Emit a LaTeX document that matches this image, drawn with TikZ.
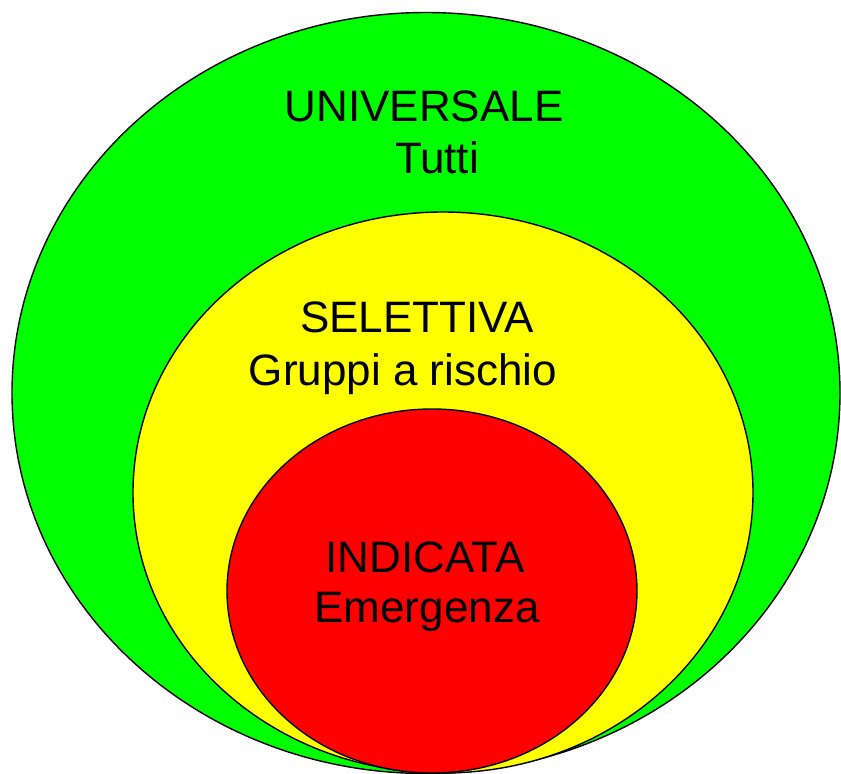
\documentclass[tikz,border=0pt]{standalone}
\usepackage{fontspec}
\setmainfont{Liberation Sans}
\usetikzlibrary{shapes.geometric}
\definecolor{cgreen}{HTML}{00FF00}
\definecolor{cyellow}{HTML}{FFFF00}
\definecolor{cred}{HTML}{FF0000}
\begin{document}
\begin{tikzpicture}[x=1pt,y=-1pt,
  zone/.style={ellipse, draw=black, line width=1.4pt, inner sep=0pt},
  lbl/.style={anchor=base, inner sep=0pt, font=\fontsize{44}{50}\selectfont, text=black}]
\useasboundingbox (0,0) rectangle (841,774);
\node[zone, fill=cgreen, minimum width=828pt, minimum height=761pt] (uni) at (426,393) {};
\node[zone, fill=cyellow, minimum width=620pt, minimum height=561pt] (sel) at (443,492.5) {};
\node[zone, fill=cred, minimum width=410pt, minimum height=364pt] (ind) at (432,591) {};
\node[lbl] (t1) at (424,121) {UNIVERSALE};
\node[lbl] (t2) at (437,173) {Tutti};
\node[lbl] (t3) at (417,332) {SELETTIVA};
\node[lbl] (t4) at (403,385) {Gruppi a rischio};
\node[lbl] (t5) at (425,572) {INDICATA};
\node[lbl] (t6) at (427,622) {Emergenza};
\end{tikzpicture}
\end{document}
